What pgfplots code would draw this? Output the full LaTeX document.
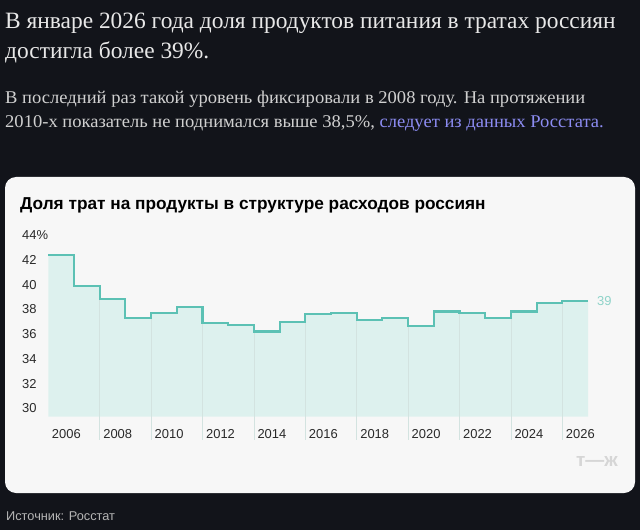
\documentclass[border=0pt]{standalone}
\usepackage{pgfplots}
\pgfplotsset{compat=1.18}
\usepackage{fontspec}
\setmainfont{Liberation Sans}
\newfontfamily\serif{Liberation Serif}
\definecolor{bgc}{HTML}{12141A}
\definecolor{cardc}{HTML}{F7F7F7}
\definecolor{linec}{HTML}{5CC1B4}
\definecolor{fillc}{HTML}{DDF1EE}
\definecolor{gridc}{HTML}{D3E3E0}
\definecolor{headc}{HTML}{E8E8E8}
\definecolor{subc}{HTML}{D0D0D0}
\definecolor{linkc}{HTML}{8C8CF2}
\definecolor{srcc}{HTML}{B5B5B5}
\definecolor{tickc}{HTML}{2A2A2A}
\definecolor{labc}{HTML}{8FD3C9}
\definecolor{logoc}{HTML}{D6D6D6}
\begin{document}
\begin{tikzpicture}[x=1bp,y=1bp]
\fill[bgc] (0,0) rectangle (640,-530);
\fill[cardc, rounded corners=11bp] (5,-177) rectangle (635,-493);
\node[anchor=base west, inner sep=0, text=headc, font=\serif\fontsize{23.5}{26}\selectfont] at (5,-28.3) {В январе 2026 года доля продуктов питания в тратах россиян};
\node[anchor=base west, inner sep=0, text=headc, font=\serif\fontsize{23.5}{26}\selectfont] at (5,-58.3) {достигла более 39\%.};
\node[anchor=base west, inner sep=0, text=subc, font=\serif\fontsize{18}{20}\selectfont] at (5,-103.3) {\scalebox{1.035}[1]{В последний раз такой уровень фиксировали в 2008 году. На протяжении}};
\node[anchor=base west, inner sep=0, text=subc, font=\serif\fontsize{18}{20}\selectfont] at (5,-128) {\scalebox{1.035}[1]{2010-х показатель не поднимался выше 38,5\%, \textcolor{linkc}{следует из данных Росстата.}}};
\node[anchor=base west, inner sep=0, text=black, font=\bfseries\fontsize{17.3}{20}\selectfont] at (20,-209.3) {Доля трат на продукты в структуре расходов россиян};
\node[anchor=base west, inner sep=0, text=srcc, font=\fontsize{12.8}{14}\selectfont] at (6,-520.7) {Источник: Росстат};
\node[anchor=base east, inner sep=0, text=logoc, font=\bfseries\fontsize{19}{22}\selectfont] at (618,-466) {т—ж};
\begin{axis}[
  at={(48.3bp,-416.7bp)}, anchor=south west,
  scale only axis, width=539.7bp, height=181.7bp,
  xmin=2006, xmax=2027, ymin=29.32, ymax=44,
  clip=false,
  axis line style={draw=none},
  tick style={draw=none},
  major tick length=0pt,
  xtick={2006,2008,2010,2012,2014,2016,2018,2020,2022,2024,2026},
  xticklabels={2006,2008,2010,2012,2014,2016,2018,2020,2022,2024,2026},
  ytick={30,32,34,36,38,40,42,44},
  yticklabels={30,32,34,36,38,40,42,44\%},
  xticklabel style={anchor=base west, inner sep=0pt, xshift=3.4bp, yshift=-21.6bp, text=tickc, font=\fontsize{13}{15}\selectfont},
  yticklabel style={anchor=base west, inner sep=0pt, xshift=-26.3bp, yshift=-4.7bp, text=tickc, font=\fontsize{13}{15}\selectfont},
]
\addplot[const plot mark left, fill=fillc, draw=none] coordinates {
(2006,42.4) (2007,39.9) (2008,38.8) (2009,37.33) (2010,37.7) (2011,38.2)
(2012,36.9) (2013,36.74) (2014,36.2) (2015,37.0) (2016,37.65) (2017,37.73)
(2018,37.14) (2019,37.28) (2020,36.66) (2021,37.82) (2022,37.73) (2023,37.28)
(2024,37.82) (2025,38.5) (2026,38.7) (2027,38.7)
} -- (axis cs:2027,29.32) -- (axis cs:2006,29.32) -- cycle;
\addplot[draw=none, mark=none, error bars/.cd, y dir=minus, y explicit, error mark=none,
  error bar style={draw=gridc, line width=0.7bp}] coordinates {
(2008,38.8) -= (0,11.4)
(2010,37.33) -= (0,9.93)
(2012,36.9) -= (0,9.5)
(2014,36.2) -= (0,8.8)
(2016,37.0) -= (0,9.6)
(2018,37.14) -= (0,9.74)
(2020,36.66) -= (0,9.26)
(2022,37.73) -= (0,10.33)
(2024,37.28) -= (0,9.88)
(2026,38.5) -= (0,11.1)
};
\addplot[const plot mark left, draw=linec, line width=2.1bp, mark=none] coordinates {
(2006,42.4) (2007,39.9) (2008,38.8) (2009,37.33) (2010,37.7) (2011,38.2)
(2012,36.9) (2013,36.74) (2014,36.2) (2015,37.0) (2016,37.65) (2017,37.73)
(2018,37.14) (2019,37.28) (2020,36.66) (2021,37.82) (2022,37.73) (2023,37.28)
(2024,37.82) (2025,38.5) (2026,38.7) (2027,38.7)
};
\addplot[only marks, mark=none, point meta=explicit symbolic, nodes near coords,
  nodes near coords style={anchor=west, inner sep=0pt, xshift=9bp, text=labc, font=\fontsize{13}{15}\selectfont}]
  coordinates {(2027,38.7) [39]};
\end{axis}
\end{tikzpicture}
\end{document}
